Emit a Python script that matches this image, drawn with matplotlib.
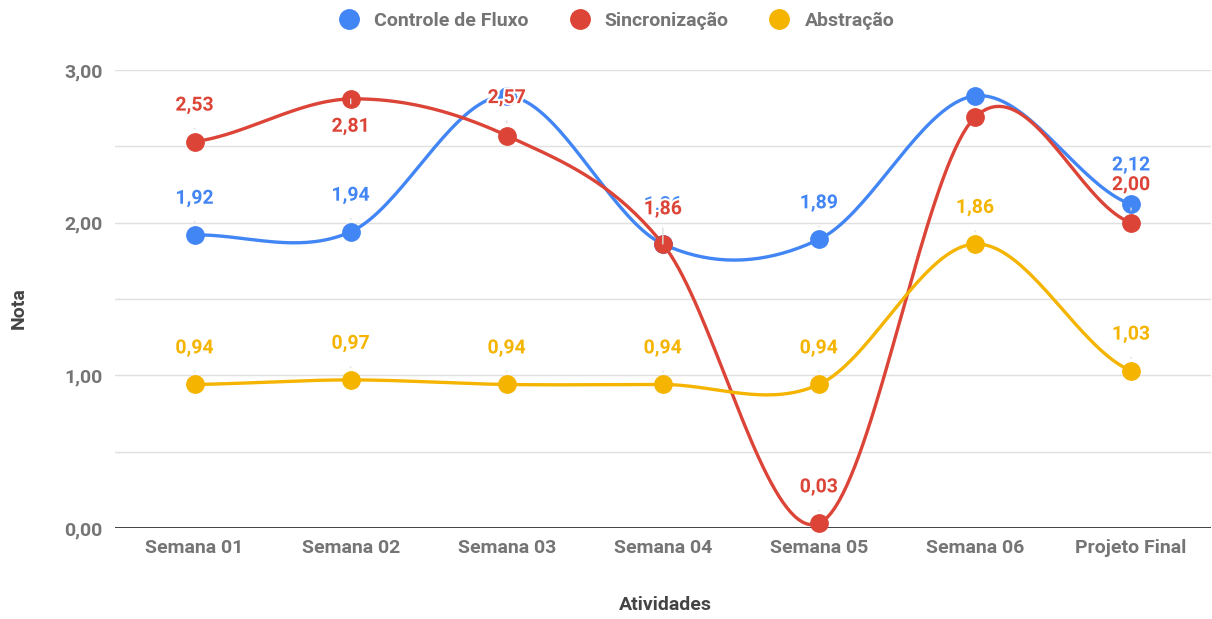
import numpy as np
import matplotlib
matplotlib.use("Agg")
import matplotlib.pyplot as plt
import matplotlib.patheffects as pe
from matplotlib.lines import Line2D

plt.rcParams['font.family'] = ['Roboto', 'DejaVu Sans']

atividades = ['Semana 01', 'Semana 02', 'Semana 03', 'Semana 04', 'Semana 05', 'Semana 06', 'Projeto Final']
controle_fluxo = [1.92, 1.94, 2.83, 1.86, 1.89, 2.83, 2.12]
sincronizacao = [2.53, 2.81, 2.57, 1.86, 0.03, 2.69, 2.00]
abstracao = [0.94, 0.97, 0.94, 0.94, 0.94, 1.86, 1.03]

nomes = ['Controle de Fluxo', 'Sincronização', 'Abstração']
cores = ['#4285F4', '#DB4437', '#F4B400']

# which labels google actually shows (some get hidden by overlap)
mostrar = [
    [True, True, False, True, True, False, True],
    [True, True, True, True, True, False, True],
    [True, True, True, True, True, True, True],
]
# label offsets in points (y)
offs = [
    [26, 26, 26, 28, 26, 26, 28],
    [26, -20, 27, 25, 26, 26, 27],
    [26, 26, 26, 26, 26, 26, 26],
]

FS = 14


def suave(x, y, n=40):
    # catmull-rom style smoothing, like curveType 'function'
    x = np.asarray(x, float)
    y = np.asarray(y, float)
    m = np.zeros_like(y)
    m[1:-1] = (y[2:] - y[:-2]) / 2
    m[0] = (y[1] - y[0]) / 2
    m[-1] = (y[-1] - y[-2]) / 2
    xs, ys = [], []
    for i in range(len(x) - 1):
        t = np.linspace(0, 1, n)
        h00 = 2*t**3 - 3*t**2 + 1
        h10 = t**3 - 2*t**2 + t
        h01 = -2*t**3 + 3*t**2
        h11 = t**3 - t**2
        xs.append(x[i] + t * (x[i+1] - x[i]))
        ys.append(h00*y[i] + h10*m[i] + h01*y[i+1] + h11*m[i+1])
    return np.concatenate(xs), np.concatenate(ys)


fig = plt.figure(figsize=(12.12, 6.19), dpi=100)
ax = fig.add_axes([0.0949, 0.147, 0.904, 0.740])

x = np.arange(len(atividades))
series = [controle_fluxo, sincronizacao, abstracao]

for s, cor in zip(series, cores):
    xs, ys = suave(x, s)
    ax.plot(xs, ys, color=cor, lw=2.4, zorder=3, clip_on=False, solid_capstyle='round')
    ax.plot(x, s, 'o', color=cor, ms=12.5, zorder=4, clip_on=False)

for k, (s, cor) in enumerate(zip(series, cores)):
    for i, v in enumerate(s):
        if not mostrar[k][i]:
            continue
        ax.annotate(f'{v:.2f}'.replace('.', ','), (i, v), xytext=(0, offs[k][i]),
                    textcoords='offset points', ha='center', va='center',
                    fontsize=FS, fontweight='bold', color=cor, zorder=6,
                    path_effects=[pe.withStroke(linewidth=3, foreground='white')],
                    arrowprops=dict(arrowstyle='-', color='#dddddd', lw=1,
                                    shrinkA=8, shrinkB=9))

ax.set_xlim(-0.51, 6.51)
ax.set_ylim(0, 3)
ax.set_yticks([0, 0.5, 1, 1.5, 2, 2.5, 3])
ax.set_yticklabels(['0,00', '', '1,00', '', '2,00', '', '3,00'])
ax.set_xticks(x)
ax.set_xticklabels(atividades)
ax.grid(axis='y', color='#e0e0e0', lw=1, zorder=0)
ax.axhline(0, color='#333333', lw=1.3, zorder=2)
for sp in ax.spines.values():
    sp.set_visible(False)
ax.tick_params(length=0, labelsize=FS, labelcolor='#757575', pad=9)
for t in ax.get_xticklabels() + ax.get_yticklabels():
    t.set_fontweight('bold')
ax.tick_params(axis='x', pad=8)

ax.set_ylabel('Nota', fontsize=FS, fontweight='bold', color='#444444')
ax.yaxis.set_label_coords(-0.08, 0.48)
fig.text(0.549, 0.022, 'Atividades', ha='center', va='center', fontsize=FS,
         fontweight='bold', color='#444444')

handles = [Line2D([], [], marker='o', ls='', color=c, ms=14) for c in cores]
leg = fig.legend(handles, nomes, loc='center', bbox_to_anchor=(0.505, 0.966), ncol=3,
                 frameon=False, handletextpad=0.3, columnspacing=1.6,
                 prop={'size': FS, 'weight': 'bold'})
for t in leg.get_texts():
    t.set_color('#757575')

fig.savefig('out.png', dpi=100)
